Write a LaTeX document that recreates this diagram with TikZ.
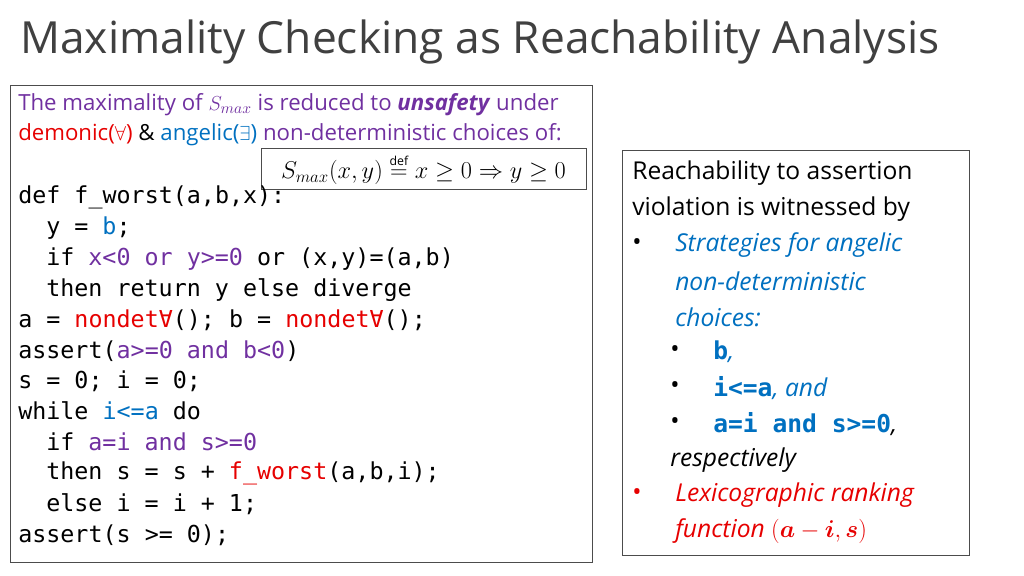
\documentclass[tikz,border=0pt]{standalone}
\usepackage{amsmath,amssymb}
\usepackage{bm}
\usepackage{fontspec}
\setmainfont{Open Sans}
\setsansfont{Open Sans}
\newfontfamily\codefont{DejaVu Sans Mono}
\usetikzlibrary{positioning}
\definecolor{hdgray}{RGB}{64,64,64}
\definecolor{kwpurple}{RGB}{112,48,160}
\definecolor{kwblue}{RGB}{0,112,192}
\definecolor{kwred}{RGB}{230,0,0}
\newcommand{\pu}[1]{\textcolor{kwpurple}{#1}}
\newcommand{\bl}[1]{\textcolor{kwblue}{#1}}
\newcommand{\rd}[1]{\textcolor{kwred}{#1}}
\tikzset{
  codeline/.style={anchor=west,inner sep=0pt,font=\codefont\fontsize{16.6}{18}\selectfont},
  introline/.style={anchor=west,inner sep=0pt,font=\fontsize{15.8}{17}\selectfont},
  sideline/.style={anchor=west,inner sep=0pt,font=\fontsize{17.5}{20}\selectfont},
  panel/.style={draw=black!70,line width=0.6pt}
}
\begin{document}
\begin{tikzpicture}[x=0.025cm,y=-0.025cm]
\useasboundingbox (0,0) rectangle (1024,576);
\node[anchor=west,inner sep=0pt,text=hdgray,font=\fontsize{31.5}{34}\selectfont] (title) at (20,42) {Maximality Checking as Reachability Analysis};
% left panel
\draw[panel] (10,85) rectangle (592,562);
\node[introline] (i1) at (18,105) {\pu{The maximality of $S_{max}$ is reduced to \textbf{\textit{unsafety}} under}};
\node[introline] (i2) at (18,135) {\rd{demonic($\forall$)} \& \bl{angelic($\exists$)} \pu{non-deterministic choices of:}};
\node[panel,fill=white,minimum width=325*0.025cm,minimum height=38*0.025cm,font=\fontsize{17.5}{20}\selectfont] (smax) at (423.5,169)
  {$S_{max}(x,y) \stackrel{\scriptscriptstyle\mathrm{def}}{=} x \geq 0 \Rightarrow y \geq 0$};
\node[codeline] (c1) at (18,197) {def f\_worst(a,b,x):};
\node[codeline] (c2) at (46,228) {y = \bl{b};};
\node[codeline] (c3) at (46,259) {if \pu{x<0 or y>=0} or (x,y)=(a,b)};
\node[codeline] (c4) at (46,290) {then return y else diverge};
\node[codeline] (c5) at (18,320) {a = \rd{nondet∀}(); b = \rd{nondet∀}();};
\node[codeline] (c6) at (18,351) {assert(\pu{a>=0 and b<0})};
\node[codeline] (c7) at (18,381) {s = 0; i = 0;};
\node[codeline] (c8) at (18,411) {while \bl{i<=a} do};
\node[codeline] (c9) at (46,442) {if \pu{a=i and s>=0}};
\node[codeline] (c10) at (46,473) {then s = s + \rd{f\_worst}(a,b,i);};
\node[codeline] (c11) at (46,504) {else i = i + 1;};
\node[codeline] (c12) at (18,535) {assert(s >= 0);};
% right panel
\draw[panel] (622,150) rectangle (969,555);
\node[sideline] (r1) at (632,173) {Reachability to assertion};
\node[sideline] (r2) at (632,209) {violation is witnessed by};
\node[sideline] (b1) at (632,245) {•};
\node[sideline] (r3) at (675,245) {\bl{\textit{Strategies for angelic}}};
\node[sideline] (r4) at (675,281) {\bl{\textit{non-deterministic}}};
\node[sideline] (r5) at (675,317) {\bl{\textit{choices:}}};
\node[sideline] (b2) at (670,352) {•};
\node[sideline] (r6) at (713,352) {\bl{\textbf{\codefont b}\textit{,}}};
\node[sideline] (b3) at (670,388) {•};
\node[sideline] (r7) at (713,388) {\bl{\textbf{\codefont i<=a}\textit{, and}}};
\node[sideline] (b4) at (670,424) {•};
\node[sideline] (r8) at (713,424) {\bl{\textbf{\codefont a=i and s>=0}}\textit{,}};
\node[sideline] (r9) at (670,460) {\textit{respectively}};
\node[sideline,text=kwred] (b5) at (632,495) {•};
\node[sideline] (r10) at (675,495) {\rd{\textit{Lexicographic ranking}}};
\node[sideline] (r11) at (675,531) {\rd{\textit{function} $(\bm{a}-\bm{i},\bm{s})$}};
\end{tikzpicture}
\end{document}
